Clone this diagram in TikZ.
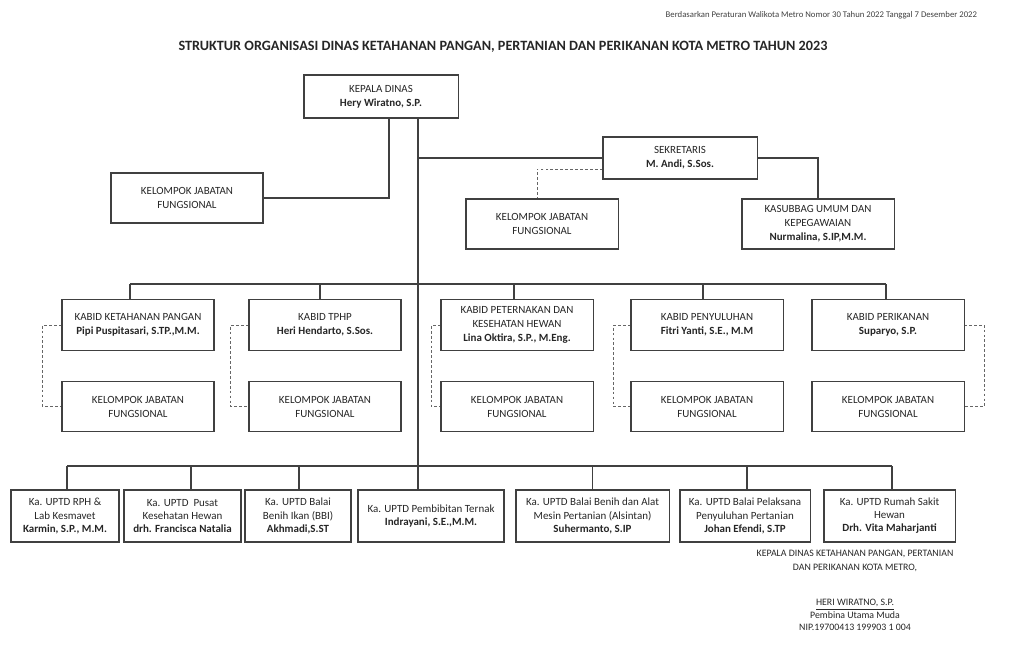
\documentclass[tikz,border=0pt]{standalone}
\usepackage{fontspec}
\setmainfont{Carlito}
\usepackage{tikz}
\usetikzlibrary{positioning,calc}

\begin{document}
\begin{tikzpicture}[
    x=0.025cm, y=-0.025cm,
    font=\fontsize{7.8}{10}\selectfont,
    node distance=7.5mm,
    box/.style  = {draw=black!75, line width=0.75pt, align=center,
                   inner sep=2pt, text=black!85},
    head/.style = {box, minimum width=3.85cm, minimum height=1.075cm},
    grp/.style  = {box, minimum width=3.8cm, minimum height=1.25cm},
    kabid/.style= {box, minimum width=3.8cm, minimum height=1.275cm},
    uptd/.style = {box, minimum height=1.3cm, font=\fontsize{7.8}{9.3}\selectfont},
    ln/.style   = {draw=black!75, line width=0.75pt},
    dln/.style  = {draw=black!60, line width=0.7pt, dash pattern=on 2pt off 1.5pt},
]
\useasboundingbox (0,0) rectangle (1024,652);

% ============ Header and title ============
\node[anchor=east, font=\fontsize{6.2}{7}\selectfont, text=black!75] (basis) at (982,15)
    {Berdasarkan Peraturan Walikota Metro Nomor 30 Tahun 2022 Tanggal 7 Desember 2022};
\node[font=\bfseries\fontsize{10.1}{12}\selectfont, text=black!85] (title) at (503,47)
    {STRUKTUR ORGANISASI DINAS KETAHANAN PANGAN, PERTANIAN DAN PERIKANAN KOTA METRO TAHUN 2023};

% ============ Row 1: head, secretary ============
\node[head] (kd) at (381,96.5) {KEPALA DINAS\\\textbf{Hery Wiratno, S.P.}};
\node[grp] (jf0) at (187,198) {KELOMPOK JABATAN\\FUNGSIONAL};
\node[head, minimum height=1.05cm] (sek) at (680,158)
    {SEKRETARIS\\\textbf{M. Andi, S.Sos.}};
\node[grp] (jfs) at (542,224) {KELOMPOK JABATAN\\FUNGSIONAL};
\node[grp] (ksb) at (818,224)
    {KASUBBAG UMUM DAN\\KEPEGAWAIAN\\\textbf{Nurmalina, S.IP,M.M.}};

% ============ Row 2: kabid ============
\node[kabid] (k1) at (138,325)
    {KABID KETAHANAN PANGAN\\\textbf{Pipi Puspitasari, S.TP.,M.M.}};
\node[kabid] (k2) at (325,325) {KABID TPHP\\\textbf{Heri Hendarto, S.Sos.}};
\node[kabid] (k3) at (517,325)
    {KABID PETERNAKAN DAN\\KESEHATAN HEWAN\\\textbf{Lina Oktira, S.P., M.Eng.}};
\node[kabid] (k4) at (707,325) {KABID PENYULUHAN\\\textbf{Fitri Yanti, S.E., M.M}};
\node[kabid] (k5) at (888,325) {KABID PERIKANAN\\\textbf{Suparyo, S.P.}};

\node[grp, below=of k1] (j1) {KELOMPOK JABATAN\\FUNGSIONAL};
\node[grp, below=of k2] (j2) {KELOMPOK JABATAN\\FUNGSIONAL};
\node[grp, below=of k3] (j3) {KELOMPOK JABATAN\\FUNGSIONAL};
\node[grp, below=of k4] (j4) {KELOMPOK JABATAN\\FUNGSIONAL};
\node[grp, below=of k5] (j5) {KELOMPOK JABATAN\\FUNGSIONAL};

% ============ Row 3: UPTD ============
\node[uptd, minimum width=2.7cm] (u1) at (65,516)
    {Ka. UPTD RPH \&\\Lab Kesmavet\\\textbf{Karmin, S.P., M.M.}};
\node[uptd, minimum width=2.925cm] (u2) at (182.5,516)
    {Ka. UPTD\ \ Pusat\\Kesehatan Hewan\\\textbf{drh. Francisca Natalia}};
\node[uptd, minimum width=2.65cm] (u3) at (298,516)
    {Ka. UPTD Balai\\Benih Ikan (BBI)\\\textbf{Akhmadi,S.ST}};
\node[uptd, minimum width=3.65cm] (u4) at (431,516)
    {Ka. UPTD Pembibitan Ternak\\\textbf{Indrayani, S.E.,M.M.}};
\node[uptd, minimum width=3.825cm] (u5) at (592.5,516)
    {Ka. UPTD Balai Benih dan Alat\\Mesin Pertanian (Alsintan)\\\textbf{Suhermanto, S.IP}};
\node[uptd, minimum width=3.25cm] (u6) at (745,516)
    {Ka. UPTD Balai Pelaksana\\Penyuluhan Pertanian\\\textbf{Johan Efendi, S.TP}};
\node[uptd, minimum width=3.275cm] (u7) at (889.5,516)
    {Ka. UPTD Rumah Sakit\\Hewan\\\textbf{Drh. Vita Maharjanti}};

% ============ Signature ============
\node[font=\fontsize{7}{10}\selectfont, text=black!85, align=center] (ttd) at (855,561)
    {KEPALA DINAS KETAHANAN PANGAN, PERTANIAN\\DAN PERIKANAN KOTA METRO,};
\node[font=\fontsize{7}{8.7}\selectfont, text=black!85, align=center] (nama) at (855,615)
    {\underline{HERI WIRATNO, S.P.}\\Pembina Utama Muda\\NIP.19700413 199903 1 004};

% ============ Connectors ============
\coordinate (trunk) at ([xshift=9.25mm]kd.south);
\coordinate (bar1) at (418,284);
\coordinate (bar2) at (418,466);

\draw[ln] ([xshift=2mm]kd.south) |- (jf0.east);
\draw[ln] (trunk) -- (trunk |- u4.north);
\draw[ln] (trunk |- sek.west) -- (sek.west);
\draw[ln] (sek.east) -| (ksb.north);
\draw[dln] ([yshift=-2.75mm]sek.west) -| ([xshift=-1.25mm]jfs.north);

\draw[ln] ($(k1.north |- bar1)+(-8,0)$) -- ($(k5.north |- bar1)+(-2,0)$);
\foreach \k/\dx in {k1/-8,k2/-5,k3/-3,k4/-4,k5/-2}
    \draw[ln] ($(\k.north)+(\dx,0)$) -- ($(\k.north |- bar1)+(\dx,0)$);

\foreach \k/\j/\dx in {k1/j1/-19,k2/j2/-18,k3/j3/-9,k4/j4/-17}
    \draw[dln] (\k.west) -- ++(\dx,0) |- (\j.west);
\draw[dln] (k5.east) -- ++(20,0) |- (j5.east);

\draw[ln] ($(u1.north |- bar2)+(2,0)$) -- ($(u7.north |- bar2)+(2.5,0)$);
\foreach \u/\dx in {u1/2,u2/8.5,u3/1,u5/0,u6/2,u7/2.5}
    \draw[ln] ($(\u.north)+(\dx,0)$) -- ($(\u.north |- bar2)+(\dx,0)$);

\end{tikzpicture}
\end{document}
